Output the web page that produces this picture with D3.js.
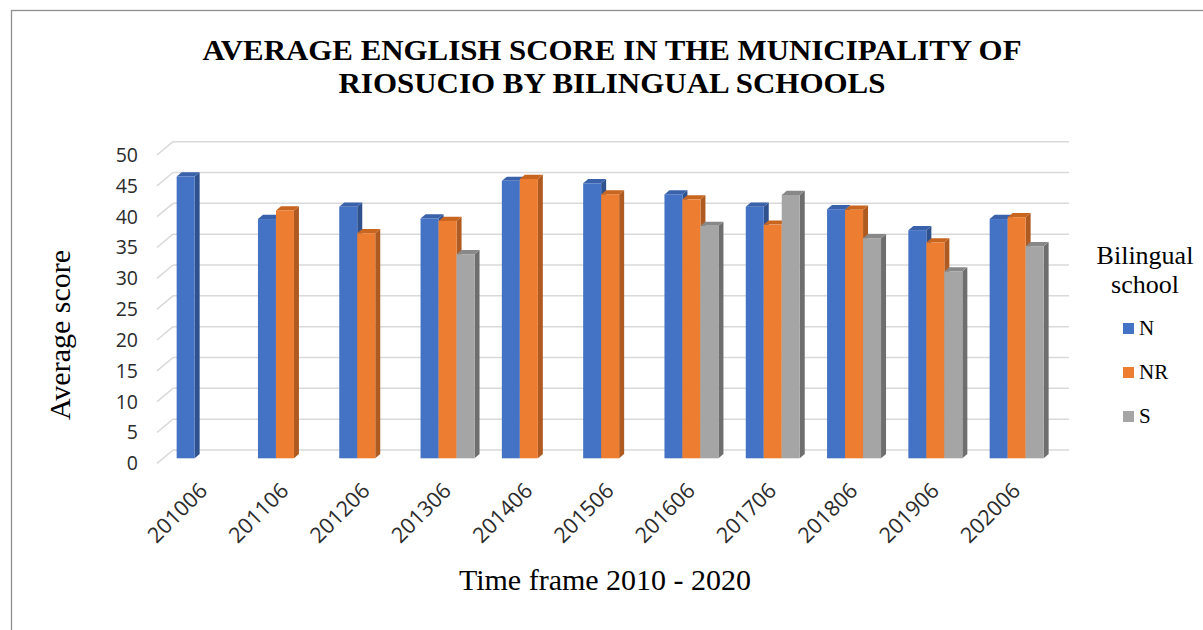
<!DOCTYPE html>
<html>
<head>
<meta charset="utf-8">
<script src="https://cdn.jsdelivr.net/npm/d3@7"></script>
<style>
  html, body { margin: 0; padding: 0; background: #fff; }
  svg { display: block; }
</style>
</head>
<body>
<svg id="chart" width="1203" height="630"></svg>
<script>
const categories = ["201006","201106","201206","201306","201406","201506","201606","201706","201806","201906","202006"];
const seriesNames = ["N","NR","S"];
const valuesN  = [45.7, 38.8, 40.8, 38.9, 45.0, 44.6, 42.8, 40.8, 40.4, 37.0, 38.8];
const valuesNR = [null, 40.2, 36.5, 38.5, 45.3, 42.8, 42.0, 37.9, 40.3, 35.0, 39.1];
const valuesS  = [null, null, null, 33.1, null, null, 37.7, 42.7, 35.7, 30.3, 34.4];
const yTicks = [0,5,10,15,20,25,30,35,40,45,50];
const titleLines = ["AVERAGE ENGLISH SCORE IN THE MUNICIPALITY OF", "RIOSUCIO BY BILINGUAL SCHOOLS"];
const yTitle = "Average score";
const xTitle = "Time frame 2010 - 2020";
const legendTitle = ["Bilingual", "school"];

const seriesValues = [valuesN, valuesNR, valuesS];
const colors = {
  N:  {front: "#4472C4", side: "#2F528F", top: "#3A62AB"},
  NR: {front: "#ED7D31", side: "#AE5A21", top: "#C8651F"},
  S:  {front: "#A5A5A5", side: "#6E6E6E", top: "#888888"}
};

const svg = d3.select("#chart");

// border
svg.append("rect").attr("x", 11.5).attr("y", 10.5).attr("width", 1200).attr("height", 640)
  .attr("fill", "none").attr("stroke", "#8f8f8f").attr("stroke-width", 1.3);

// scales
const x = d3.scaleBand().domain(categories).range([163, 1057.3]).paddingInner(0.336).paddingOuter(0.168);
const xs = d3.scaleBand().domain(seriesNames).range([0, x.bandwidth()]);
const y = d3.scaleLinear().domain([0, 50]).range([458.3, 150]);

// depth geometry
const wallDX = 16, wallDY = -13.3;   // floor front -> back wall
const barDX = 5, barDY = -4.2;       // bar depth

// gridlines (back wall + side diagonal)
const grid = svg.append("g");
yTicks.forEach(t => {
  const yb = y(t) - 8.3;
  grid.append("line").attr("x1", 173).attr("x2", 1069).attr("y1", yb).attr("y2", yb)
    .attr("stroke", "#D9D9D9").attr("stroke-width", 1.5);
  grid.append("line").attr("x1", 173 - wallDX).attr("y1", yb - wallDY).attr("x2", 173).attr("y2", yb)
    .attr("stroke", "#D9D9D9").attr("stroke-width", 1.5);
});

// y tick labels
svg.append("g").selectAll("text").data(yTicks).join("text")
  .attr("x", 138).attr("y", d => y(d) + 4.5)
  .attr("text-anchor", "end").attr("dominant-baseline", "central")
  .attr("font-family", "'Open Sans', sans-serif").attr("font-size", 19.5).attr("fill", "#2b2b2b")
  .text(d => d);

// bars
const barsG = svg.append("g");
categories.forEach((c, i) => {
  seriesNames.forEach((s, k) => {
    const v = seriesValues[k][i];
    if (v == null) return;
    const x0 = x(c) + xs(s), x1 = x0 + xs.bandwidth();
    const yt = y(v), yb = y(0);
    const col = colors[s];
    const g = barsG.append("g");
    g.append("path").attr("d", `M${x1},${yt}L${x1+barDX},${yt+barDY}L${x1+barDX},${yb+barDY}L${x1},${yb}Z`)
      .attr("fill", col.side);
    g.append("path").attr("d", `M${x0},${yt}L${x0+barDX},${yt+barDY}L${x1+barDX},${yt+barDY}L${x1},${yt}Z`)
      .attr("fill", col.top);
    g.append("rect").attr("x", x0).attr("y", yt).attr("width", x1 - x0).attr("height", yb - yt)
      .attr("fill", col.front);
  });
});

// x tick labels (rotated)
svg.append("g").selectAll("text").data(categories).join("text")
  .attr("transform", d => `translate(${x(d) + x.bandwidth()/2 + 5},${492}) rotate(-45)`)
  .attr("text-anchor", "end")
  .attr("font-family", "'Open Sans', sans-serif").attr("font-size", 21.5).attr("fill", "#2b2b2b")
  .text(d => d);

// title
const titleWidths = [819, 547];
svg.append("g").selectAll("text").data(titleLines).join("text")
  .attr("x", 612).attr("y", (d, i) => 59.5 + i * 33)
  .attr("text-anchor", "middle")
  .attr("textLength", (d, i) => titleWidths[i]).attr("lengthAdjust", "spacingAndGlyphs")
  .attr("font-family", "'Liberation Serif', 'Times New Roman', serif").attr("font-weight", "bold")
  .attr("font-size", 29.5).attr("fill", "#000")
  .text(d => d);

// axis titles
svg.append("text").attr("transform", "translate(70,335) rotate(-90)")
  .attr("text-anchor", "middle")
  .attr("font-family", "'Liberation Serif', 'Times New Roman', serif").attr("font-size", 30).attr("fill", "#000")
  .text(yTitle);
svg.append("text").attr("x", 605).attr("y", 590)
  .attr("text-anchor", "middle")
  .attr("font-family", "'Liberation Serif', 'Times New Roman', serif").attr("font-size", 30).attr("fill", "#000")
  .text(xTitle);

// legend
const lg = svg.append("g");
lg.selectAll("text.lt").data(legendTitle).join("text").attr("class", "lt")
  .attr("x", 1145).attr("y", (d, i) => 263.5 + i * 29.5)
  .attr("text-anchor", "middle")
  .attr("font-family", "'Liberation Serif', 'Times New Roman', serif").attr("font-size", 26).attr("fill", "#000")
  .text(d => d);
const items = lg.selectAll("g.item").data(seriesNames).join("g").attr("class", "item")
  .attr("transform", (d, i) => `translate(1123,${323 + i * 44})`);
items.append("rect").attr("width", 11).attr("height", 11).attr("fill", d => colors[d].front);
items.append("text").attr("x", 16).attr("y", 12)
  .attr("font-family", "'Liberation Serif', 'Times New Roman', serif").attr("font-size", 21).attr("fill", "#000")
  .text(d => d);
</script>
</body>
</html>
